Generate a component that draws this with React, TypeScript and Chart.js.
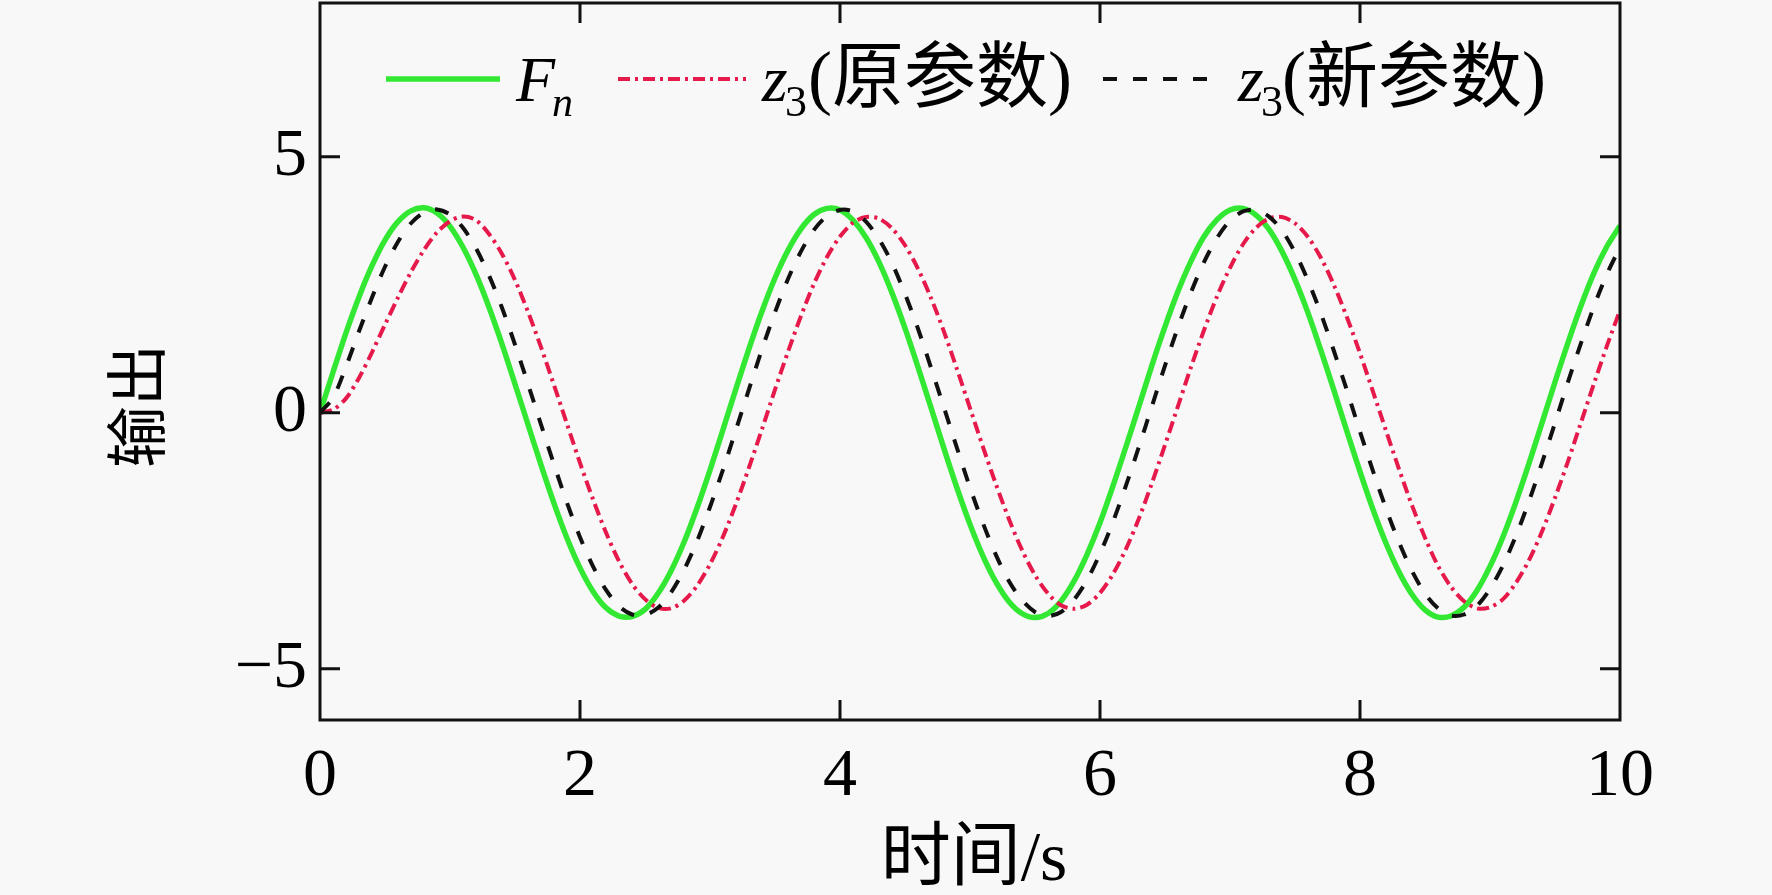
import React, { useEffect, useRef } from "react";
import { Chart, registerables } from "chart.js";

Chart.register(...registerables);

// ---------- data ----------
const time = [
  0, 0.1, 0.2, 0.3, 0.4, 0.5, 0.6, 0.7, 0.8, 0.9,
  1.0, 1.1, 1.2, 1.3, 1.4, 1.5, 1.6, 1.7, 1.8, 1.9,
  2.0, 2.1, 2.2, 2.3, 2.4, 2.5, 2.6, 2.7, 2.8, 2.9,
  3.0, 3.1, 3.2, 3.3, 3.4, 3.5, 3.6, 3.7, 3.8, 3.9,
  4.0, 4.1, 4.2, 4.3, 4.4, 4.5, 4.6, 4.7, 4.8, 4.9,
  5.0, 5.1, 5.2, 5.3, 5.4, 5.5, 5.6, 5.7, 5.8, 5.9,
  6.0, 6.1, 6.2, 6.3, 6.4, 6.5, 6.6, 6.7, 6.8, 6.9,
  7.0, 7.1, 7.2, 7.3, 7.4, 7.5, 7.6, 7.7, 7.8, 7.9,
  8.0, 8.1, 8.2, 8.3, 8.4, 8.5, 8.6, 8.7, 8.8, 8.9,
  9.0, 9.1, 9.2, 9.3, 9.4, 9.5, 9.6, 9.7, 9.8, 9.9,
  10.0,
];

const fn = [
  0, 0.79, 1.56, 2.26, 2.87, 3.37, 3.73, 3.94, 4.0, 3.9,
  3.64, 3.23, 2.7, 2.06, 1.34, 0.56, -0.23, -1.02, -1.77, -2.45,
  -3.03, -3.49, -3.81, -3.97, -3.98, -3.84, -3.53, -3.09, -2.53, -1.86,
  -1.12, -0.33, 0.47, 1.25, 1.98, 2.63, 3.17, 3.59, 3.87, 3.99,
  3.96, 3.76, 3.42, 2.94, 2.34, 1.65, 0.89, 0.1, -0.7, -1.47,
  -2.18, -2.8, -3.31, -3.69, -3.92, -4.0, -3.92, -3.68, -3.29, -2.77,
  -2.15, -1.43, -0.66, 0.13, 0.93, 1.68, 2.37, 2.96, 3.44, 3.77,
  3.96, 3.99, 3.86, 3.58, 3.15, 2.6, 1.95, 1.21, 0.43, -0.37,
  -1.15, -1.89, -2.55, -3.11, -3.55, -3.85, -3.99, -3.97, -3.8, -3.47,
  -3.0, -2.42, -1.74, -0.99, -0.2, 0.6, 1.37, 2.09, 2.73, 3.25,
  3.65,
];

const z3Old = [
  0, 0.06, 0.28, 0.68, 1.18, 1.72, 2.25, 2.75, 3.18, 3.52,
  3.74, 3.83, 3.76, 3.49, 3.1, 2.59, 1.97, 1.28, 0.54, -0.22,
  -0.98, -1.69, -2.34, -2.9, -3.34, -3.64, -3.81, -3.82, -3.67, -3.38,
  -2.96, -2.42, -1.78, -1.07, -0.32, 0.45, 1.19, 1.89, 2.52, 3.04,
  3.44, 3.71, 3.82, 3.79, 3.6, 3.27, 2.81, 2.24, 1.58, 0.85,
  0.09, -0.67, -1.4, -2.08, -2.68, -3.17, -3.53, -3.76, -3.83, -3.75,
  -3.52, -3.15, -2.66, -2.06, -1.37, -0.63, 0.13, 0.89, 1.61, 2.27,
  2.83, 3.29, 3.61, 3.79, 3.82, 3.7, 3.43, 3.02, 2.49, 1.86,
  1.16, 0.41, -0.35, -1.1, -1.81, -2.44, -2.99, -3.4, -3.68, -3.82,
  -3.8, -3.64, -3.32, -2.88, -2.32, -1.66, -0.95, -0.19, 0.57, 1.31,
  2.0,
];

const z3New = [
  0, 0.29, 0.9, 1.59, 2.25, 2.85, 3.34, 3.7, 3.91, 3.97,
  3.87, 3.61, 3.21, 2.68, 2.05, 1.33, 0.56, -0.23, -1.01, -1.76,
  -2.43, -3.0, -3.46, -3.78, -3.94, -3.95, -3.81, -3.51, -3.07, -2.51,
  -1.84, -1.11, -0.33, 0.46, 1.24, 1.96, 2.61, 3.15, 3.57, 3.84,
  3.96, 3.93, 3.73, 3.39, 2.92, 2.32, 1.64, 0.88, 0.1, -0.69,
  -1.46, -2.16, -2.78, -3.29, -3.66, -3.89, -3.97, -3.89, -3.65, -3.27,
  -2.75, -2.13, -1.42, -0.66, 0.13, 0.92, 1.67, 2.35, 2.94, 3.41,
  3.75, 3.93, 3.96, 3.83, 3.56, 3.13, 2.58, 1.93, 1.2, 0.43,
  -0.37, -1.14, -1.87, -2.53, -3.09, -3.53, -3.82, -3.96, -3.94, -3.77,
  -3.44, -2.98, -2.4, -1.73, -0.98, -0.2, 0.6, 1.36, 2.08, 2.71,
  3.23,
];

const xTicks = [0, 2, 4, 6, 8, 10];
const yTicks = [-5, 0, 5];
const xRange = [0, 10];
const yRange = [-6, 8];
const xTitle = "时间/s";
const yTitle = "输出";
const legendOld = "(原参数)";
const legendNew = "(新参数)";

// ---------- styles ----------
const W = 1772;
const H = 895;
const BG = "#f8f8f8";
const GREEN = "#33e833";
const RED = "#e6194b";
const BLACK = "#111111";
const SERIF = '"Liberation Serif", "Times New Roman", "Noto Sans CJK SC", serif';
const RED_DASH = [12, 5, 3, 5];
const BLACK_DASH = [14, 16];

const toPoints = (ys: number[]) => time.map((t, i) => ({ x: t, y: ys[i] }));

const framePlugin = {
  id: "frameAndLegend",
  afterDatasetsDraw(chart: any) {
    const { ctx, chartArea: a, scales } = chart;
    ctx.save();
    // frame
    ctx.setLineDash([]);
    ctx.strokeStyle = BLACK;
    ctx.lineWidth = 3;
    ctx.strokeRect(a.left, a.top, a.right - a.left, a.bottom - a.top);
    // inward ticks
    const L = 20;
    ctx.beginPath();
    xTicks.forEach((v) => {
      if (v === xRange[0] || v === xRange[1]) return;
      const px = scales.x.getPixelForValue(v);
      ctx.moveTo(px, a.bottom);
      ctx.lineTo(px, a.bottom - L);
      ctx.moveTo(px, a.top);
      ctx.lineTo(px, a.top + L);
    });
    yTicks.forEach((v) => {
      const py = scales.y.getPixelForValue(v);
      ctx.moveTo(a.left, py);
      ctx.lineTo(a.left + L, py);
      ctx.moveTo(a.right, py);
      ctx.lineTo(a.right - L, py);
    });
    ctx.stroke();

    // legend
    const ly = 79;
    const base = 101;
    const subBase = 116;
    const drawSample = (x0: number, x1: number, color: string, width: number, dash: number[]) => {
      ctx.beginPath();
      ctx.setLineDash(dash);
      ctx.strokeStyle = color;
      ctx.lineWidth = width;
      ctx.moveTo(x0, ly);
      ctx.lineTo(x1, ly);
      ctx.stroke();
      ctx.setLineDash([]);
    };
    ctx.fillStyle = "#000";
    ctx.textBaseline = "alphabetic";
    ctx.textAlign = "left";

    drawSample(386, 500, GREEN, 5.5, []);
    ctx.font = `italic 64px ${SERIF}`;
    ctx.fillText("F", 516, base);
    ctx.font = `italic 42px ${SERIF}`;
    ctx.fillText("n", 552, subBase);

    drawSample(618, 746, RED, 4, RED_DASH);
    ctx.font = `italic 66px ${SERIF}`;
    ctx.fillText("z", 762, base);
    ctx.font = `44px ${SERIF}`;
    ctx.fillText("3", 785, subBase);
    ctx.font = `72px ${SERIF}`;
    ctx.fillText(legendOld, 808, base);

    drawSample(1103, 1220, BLACK, 4, BLACK_DASH);
    ctx.font = `italic 66px ${SERIF}`;
    ctx.fillText("z", 1238, base);
    ctx.font = `44px ${SERIF}`;
    ctx.fillText("3", 1261, subBase);
    ctx.font = `72px ${SERIF}`;
    ctx.fillText(legendNew, 1282, base);

    // axis titles
    ctx.font = `70px ${SERIF}`;
    ctx.textAlign = "center";
    ctx.textBaseline = "middle";
    ctx.fillText(xTitle, (a.left + a.right) / 2 + 4, 862);
    ctx.save();
    ctx.font = `62px ${SERIF}`;
    ctx.translate(144, 406);
    ctx.rotate(-Math.PI / 2);
    ctx.fillText(yTitle, 0, 0);
    ctx.restore();

    ctx.restore();
  },
};

export default function App() {
  const ref = useRef<HTMLCanvasElement | null>(null);

  useEffect(() => {
    if (!ref.current) return;
    const tickFont = { family: SERIF, size: 68 };
    const chart = new Chart(ref.current, {
      type: "line",
      data: {
        datasets: [
          {
            label: "Fn",
            data: toPoints(fn),
            borderColor: GREEN,
            borderWidth: 5.5,
            pointRadius: 0,
            tension: 0.3,
            fill: false,
            order: 3,
            clip: 0,
          },
          {
            label: "z3 (原参数)",
            data: toPoints(z3Old),
            borderColor: RED,
            borderWidth: 4,
            borderDash: RED_DASH,
            pointRadius: 0,
            tension: 0.3,
            fill: false,
            order: 2,
            clip: 0,
          },
          {
            label: "z3 (新参数)",
            data: toPoints(z3New),
            borderColor: BLACK,
            borderWidth: 4,
            borderDash: BLACK_DASH,
            pointRadius: 0,
            tension: 0.3,
            fill: false,
            order: 1,
            clip: 0,
          },
        ],
      },
      options: {
        animation: false,
        responsive: false,
        maintainAspectRatio: false,
        devicePixelRatio: 1,
        layout: { padding: { top: 3, right: 152, left: 0, bottom: 0 } },
        plugins: {
          legend: { display: false },
          tooltip: { enabled: false },
          title: { display: false },
        },
        scales: {
          x: {
            type: "linear",
            min: xRange[0],
            max: xRange[1],
            grid: { display: false, drawTicks: false },
            border: { display: false },
            ticks: {
              font: tickFont,
              color: "#000",
              padding: 16,
              maxRotation: 0,
              autoSkip: false,
            },
            afterBuildTicks: (s: any) => {
              s.ticks = xTicks.map((v) => ({ value: v }));
            },
            afterFit: (s: any) => {
              s.height = 175;
              s.paddingLeft = 0;
              s.paddingRight = 0;
              s.paddingTop = 0;
              s.paddingBottom = 0;
            },
          },
          y: {
            type: "linear",
            min: yRange[0],
            max: yRange[1],
            grid: { display: false, drawTicks: false },
            border: { display: false },
            ticks: {
              font: tickFont,
              color: "#000",
              padding: 13,
              autoSkip: false,
              callback: (v: any) => (Number(v) < 0 ? "\u2212" + Math.abs(Number(v)) : String(v)),
            },
            afterBuildTicks: (s: any) => {
              s.ticks = yTicks.map((v) => ({ value: v }));
            },
            afterFit: (s: any) => {
              s.width = 320;
              s.paddingLeft = 0;
              s.paddingRight = 0;
              s.paddingTop = 0;
              s.paddingBottom = 0;
            },
          },
        },
      },
      plugins: [framePlugin],
    } as any);
    return () => chart.destroy();
  }, []);

  return (
    <div
      style={{
        position: "fixed",
        left: 0,
        top: 0,
        width: W,
        height: H,
        background: BG,
      }}
    >
      <canvas ref={ref} width={W} height={H} style={{ display: "block", width: W, height: H }} />
    </div>
  );
}
